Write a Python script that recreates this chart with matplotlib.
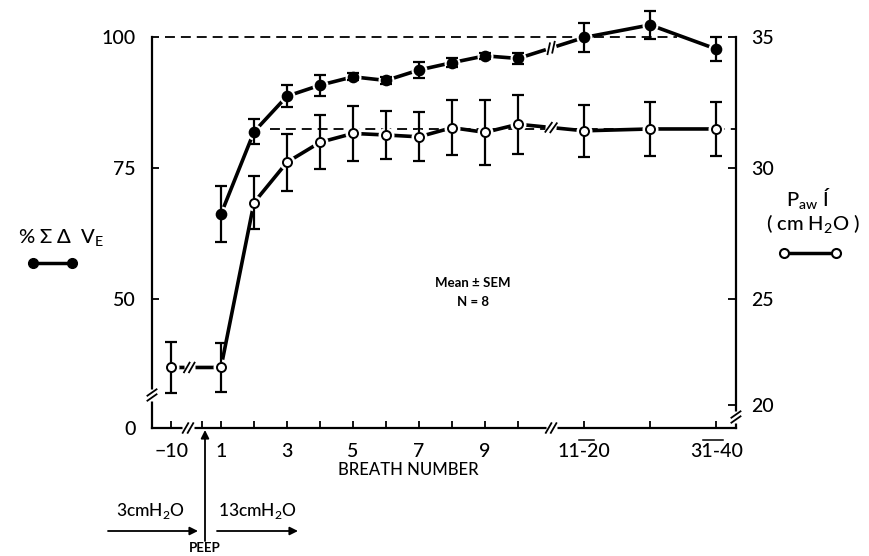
import numpy as np
import matplotlib
matplotlib.use('Agg')
import matplotlib.pyplot as plt
from matplotlib.transforms import Affine2D, ScaledTranslation
from matplotlib.lines import Line2D

plt.rcParams['font.family'] = ['Lato', 'DejaVu Sans']
plt.rcParams['font.weight'] = 'medium'
plt.rcParams['mathtext.fontset'] = 'custom'
plt.rcParams['mathtext.rm'] = 'Lato'

# breath number categories (x axis is broken after -10 and after 10)
breath = ['−10', '1', '2', '3', '4', '5', '6', '7', '8', '9', '10', '11-20', '21-30', '31-40']

# % sum delta V_E (left axis), mean and SEM
ve = [np.nan, 66.2, 81.9, 88.7, 90.8, 92.4, 91.7, 93.7, 95.1, 96.4, 95.9, 99.9, 102.3, 97.7]
ve_sem = [np.nan, 5.4, 2.4, 2.1, 2.0, 0.7, 0.7, 1.6, 0.8, 0.6, 1.1, 2.7, 2.6, 2.2]

# inspiratory airway pressure, cmH2O (right axis), mean and SEM
paw = [22.39, 22.39, 28.68, 30.22, 30.98, 31.32, 31.26, 31.19, 31.54, 31.36, 31.67, 31.42, 31.49, 31.49]
paw_sem = [0.97, 0.93, 1.0, 1.09, 1.03, 1.04, 0.92, 0.93, 1.06, 1.24, 1.13, 1.0, 1.03, 1.03]

ve_ref = 100
paw_ref = 31.5

xticks_major = ['−10', '1', '3', '5', '7', '9', '11-20', '31-40']

# x position of each category (gap for the breaks, grouped breaths take two slots)
xpos = {b: (-0.5 if b == '−10' else float(b)) for b in breath[:11]}
xpos.update({'11-20': 12.0, '21-30': 14.0, '31-40': 16.0})
x = np.array([xpos[b] for b in breath])

fig = plt.figure(figsize=(8.69, 5.56), dpi=100)
ax = fig.add_axes([0.1749, 0.2302, 0.6720, 0.7033])
ax2 = ax.twinx()
ax.set_xlim(-1.09, 16.6)
ax.set_ylim(25.38, 100)
ax2.set_ylim(20.08, 35)

for a in (ax, ax2):
    a.spines['top'].set_visible(False)
    for s in a.spines.values():
        s.set_linewidth(1.6)
ax.spines['right'].set_visible(False)
ax2.spines['left'].set_visible(False)
ax2.spines['bottom'].set_visible(False)


def series(a, xs, ys, es, filled):
    a.plot(xs, ys, color='k', lw=2.6, solid_capstyle='butt', zorder=2, clip_on=False)
    # little white gap round each point, like the original drawing
    a.plot(xs, ys, 'o', ms=10.5, color='white', zorder=3, clip_on=False)
    eb = a.errorbar(xs, ys, yerr=es, fmt='none', ecolor='k', elinewidth=1.6,
                    capsize=4, capthick=1.6, zorder=4)
    for ch in eb.get_children():
        ch.set_clip_on(False)
    a.plot(xs, ys, 'o', ms=7 if filled else 6.5, mfc='k' if filled else 'white', mec='k',
           mew=1.4, zorder=5, clip_on=False)


# reference lines
ax.plot([-0.7, 14.8], [ve_ref, ve_ref], color='k', lw=1.3, ls=(0, (5.5, 3.3)), clip_on=False)
ax2.plot([2.5, 16.6], [paw_ref, paw_ref], color='k', lw=1.3, ls=(0, (5.5, 3.3)), clip_on=False)

series(ax, x, ve, ve_sem, True)
series(ax2, x, paw, paw_sem, False)


def brk(a, xb, yb, ang, tilt=60):
    t = Affine2D().scale(fig.dpi / 72) + ScaledTranslation(xb, yb, a.transData)
    g = np.deg2rad(ang)
    s = np.deg2rad(ang + tilt)
    ux, uy = np.cos(g), np.sin(g)
    vx, vy = np.cos(s), np.sin(s)
    a.plot([-4 * ux, 4 * ux], [-4 * uy, 4 * uy], color='white', lw=5,
           solid_capstyle='butt', transform=t, clip_on=False, zorder=6)
    for d in (-1.8, 1.8):
        cx, cy = d * ux, d * uy
        a.plot([cx - 4 * vx, cx + 4 * vx], [cy - 4 * vy, cy + 4 * vy], color='k',
               lw=1.3, transform=t, clip_on=False, zorder=7)


def line_brk(a, xs, ys, i, frac=0.5):
    x0, x1, y0, y1 = xs[i], xs[i + 1], ys[i], ys[i + 1]
    xb = x0 + frac * (x1 - x0)
    yb = y0 + frac * (y1 - y0)
    p0 = a.transData.transform((x0, y0))
    p1 = a.transData.transform((x1, y1))
    ang = np.degrees(np.arctan2(p1[1] - p0[1], p1[0] - p0[0]))
    brk(a, xb, yb, ang)


# breaks on the data lines
line_brk(ax2, x, paw, 0, 0.36)
line_brk(ax, x, ve, 10, 0.5)
line_brk(ax2, x, paw, 10, 0.5)
# breaks on the axes
ybot = ax.get_ylim()[0]
brk(ax, 0.0, ybot, 0)
brk(ax, 11.0, ybot, 0)
brk(ax, ax.get_xlim()[0], 31.68, 90, -55)
brk(ax2, ax.get_xlim()[1], 20.5, 90, -55)

# ticks
ax.set_yticks([ybot, 50, 75, 100], ['0', '50', '75', '100'])
ax.tick_params(axis='y', direction='in', length=5, width=1.3, pad=12, labelsize=14)
ax2.set_yticks([20.95, 25, 30, 35], ['20', '25', '30', '35'])
ax2.tick_params(axis='y', direction='in', length=6, width=1.3, pad=11, labelsize=14)
ax.set_xticks([xpos[b] for b in xticks_major], xticks_major)
ax.set_xticks([0.42, 2, 4, 6, 8, 10, 14], minor=True)
ax.tick_params(axis='x', which='both', direction='in', length=5, width=1.3, pad=11, labelsize=14)

# overlines on the grouped labels
xt = ax.get_xaxis_transform()
ax.plot([11.85, 12.3], [-0.031, -0.031], color='k', lw=1.1, transform=xt, clip_on=False)
ax.plot([15.6, 16.2], [-0.031, -0.031], color='k', lw=1.1, transform=xt, clip_on=False)

fig.text(408 / 869, 1 - 470 / 556, 'BREATH NUMBER', ha='center', va='center', fontsize=12)
fig.text(473 / 869, 1 - 283 / 556, 'Mean ± SEM', ha='center', va='center', fontsize=9.5, weight='bold')
fig.text(473 / 869, 1 - 302 / 556, 'N = 8', ha='center', va='center', fontsize=9.5, weight='bold')

# axis titles with their line symbols
fig.text(61 / 869, 1 - 238 / 556, r'% $\mathregular{\Sigma}$ Δ  V$_{\mathregular{E}}$',
         ha='center', va='center', fontsize=14.5)
fig.add_artist(Line2D([33 / 869, 72 / 869], [1 - 263 / 556] * 2, transform=fig.transFigure,
                      color='k', lw=2.5, marker='o', ms=7, mfc='k', mec='k'))
fig.text(808 / 869, 1 - 199 / 556, r'P$_{\mathregular{aw}}$ Í', ha='center', va='center', fontsize=14.5)
fig.text(813 / 869, 1 - 224 / 556, r'( cm H$_{\mathregular{2}}$O )', ha='center', va='center', fontsize=14.5)
fig.add_artist(Line2D([784 / 869, 836 / 869], [1 - 253 / 556] * 2, transform=fig.transFigure,
                      color='k', lw=2.5, marker='o', ms=6.5, mfc='white', mec='k', mew=1.5))

# PEEP annotation below the axis
fig.text(150 / 869, 1 - 511 / 556, r'3cmH$_{\mathregular{2}}$O', ha='center', va='center', fontsize=12.5)
fig.text(257 / 869, 1 - 511 / 556, r'13cmH$_{\mathregular{2}}$O', ha='center', va='center', fontsize=12.5)
fig.text(205 / 869, 1 - 548 / 556, 'PEEP', ha='center', va='center', fontsize=9.5, weight='bold')
ap = dict(arrowstyle='-|>', lw=1.3, color='k', mutation_scale=12, shrinkA=0, shrinkB=0)
ax.annotate('', xy=(198, 25), xytext=(108, 25), xycoords='figure pixels', textcoords='figure pixels', arrowprops=ap)
ax.annotate('', xy=(298, 25), xytext=(217, 25), xycoords='figure pixels', textcoords='figure pixels', arrowprops=ap)
ax.annotate('', xy=(205, 126), xytext=(205, 15), xycoords='figure pixels', textcoords='figure pixels', arrowprops=ap)

fig.savefig('out.png', dpi=100)
